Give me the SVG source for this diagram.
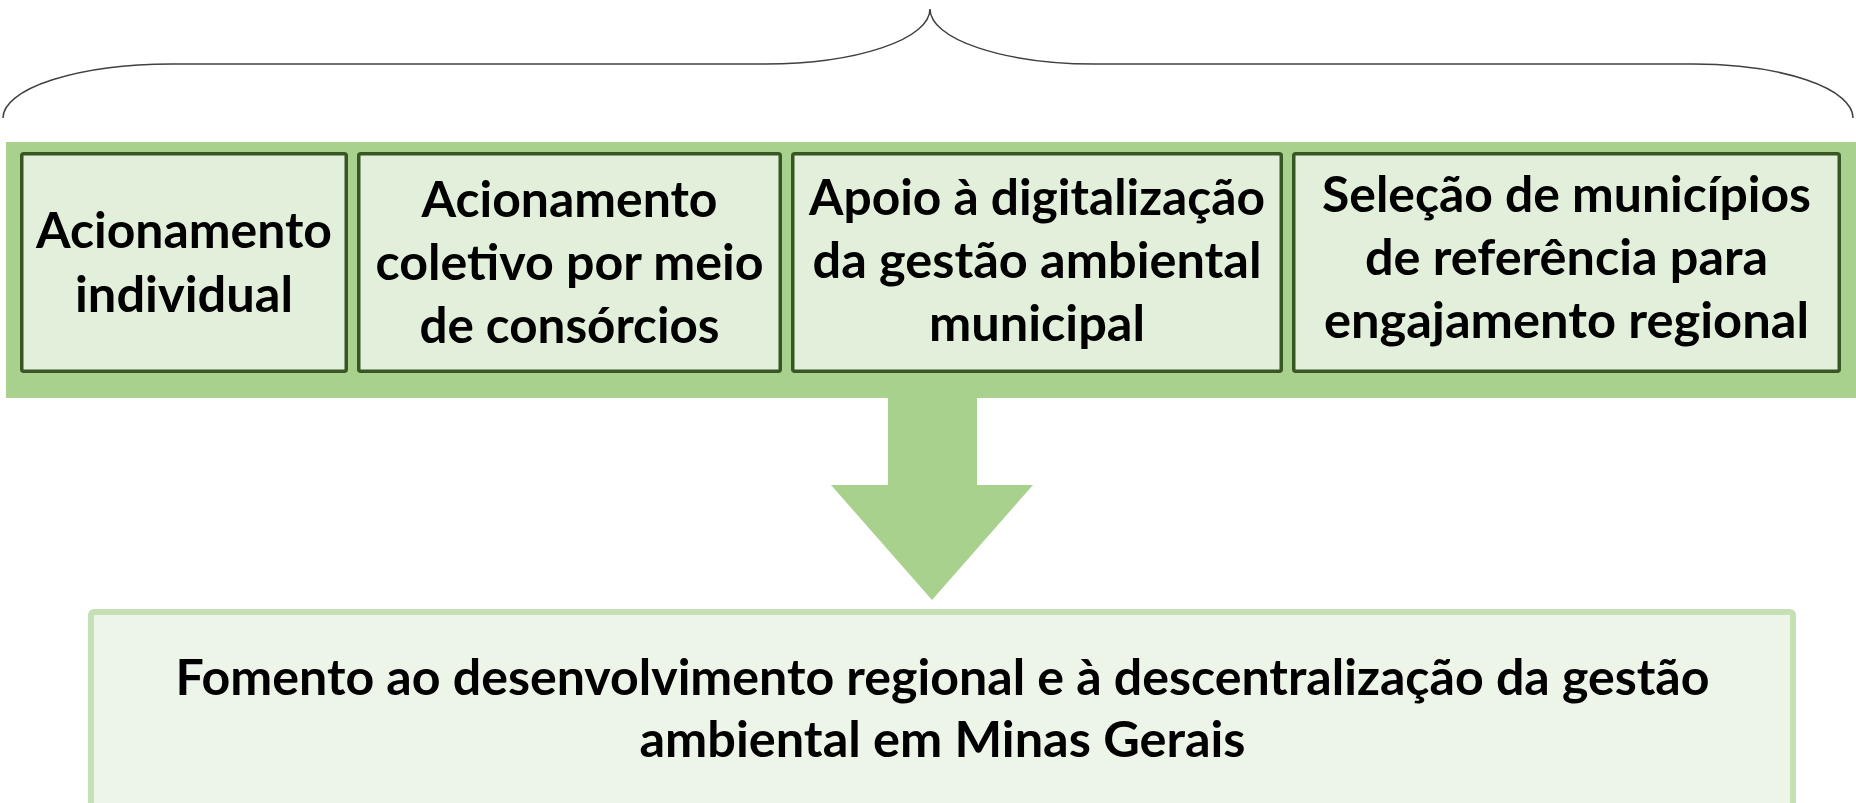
<svg xmlns="http://www.w3.org/2000/svg" width="1856" height="803" viewBox="0 0 1856 803">
<style>
.band{fill:#A9D18E}
.box{fill:#E2EFDA;stroke:#375623;stroke-width:3.5}
.out{fill:#EDF4E8;stroke:#C5E0B4;stroke-width:6}
.t{font-family:Lato,"Open Sans","Liberation Sans",sans-serif;font-weight:700;font-size:50px;fill:#000;text-anchor:middle}
.brace{fill:none;stroke:#404040;stroke-width:1.5}
</style>
<rect width="1856" height="803" fill="#FFFFFF"/>
<g id="brace">
<path class="brace" d="M3,118 A169,54 0 0 1 172,64 L765,64 A165,55 0 0 0 930,9 A165,55 0 0 0 1095,64 L1693,64 A160,54 0 0 1 1853,118"/>
</g>
<g id="group-band">
<rect class="band" x="6" y="142" width="1856" height="256"/>
</g>
<g id="connectors">
<polygon class="band" points="888,397 977,397 977,485 1033,485 932,600 831,485 888,485"/>
</g>
<g id="node1">
<rect class="box" x="21.75" y="153.75" width="324.5" height="217.5" rx="2"/>
<text class="t" x="184" y="248" textLength="296" lengthAdjust="spacingAndGlyphs">Acionamento</text>
<text class="t" x="184" y="312" textLength="218" lengthAdjust="spacingAndGlyphs">individual</text>
</g>
<g id="node2">
<rect class="box" x="358.75" y="153.75" width="421.5" height="217.5" rx="2"/>
<text class="t" x="569.5" y="217" textLength="296" lengthAdjust="spacingAndGlyphs">Acionamento</text>
<text class="t" x="569.5" y="280" textLength="388" lengthAdjust="spacingAndGlyphs">coletivo por meio</text>
<text class="t" x="569.5" y="343" textLength="300" lengthAdjust="spacingAndGlyphs">de consórcios</text>
</g>
<g id="node3">
<rect class="box" x="792.75" y="153.75" width="488.5" height="217.5" rx="2"/>
<text class="t" x="1037" y="215" textLength="456" lengthAdjust="spacingAndGlyphs">Apoio à digitalização</text>
<text class="t" x="1037" y="278" textLength="449" lengthAdjust="spacingAndGlyphs">da gestão ambiental</text>
<text class="t" x="1037" y="341" textLength="216" lengthAdjust="spacingAndGlyphs">municipal</text>
</g>
<g id="node4">
<rect class="box" x="1293.75" y="153.75" width="545.5" height="217.5" rx="2"/>
<text class="t" x="1566.5" y="212" textLength="489" lengthAdjust="spacingAndGlyphs">Seleção de municípios</text>
<text class="t" x="1566.5" y="275" textLength="403" lengthAdjust="spacingAndGlyphs">de referência para</text>
<text class="t" x="1566.5" y="338" textLength="485" lengthAdjust="spacingAndGlyphs">engajamento regional</text>
</g>
<g id="node-result">
<rect class="out" x="91" y="612" width="1702" height="230" rx="3"/>
<text class="t" x="942.5" y="695" textLength="1534" lengthAdjust="spacingAndGlyphs">Fomento ao desenvolvimento regional e à descentralização da gestão</text>
<text class="t" x="942.5" y="757" textLength="606" lengthAdjust="spacingAndGlyphs">ambiental em Minas Gerais</text>
</g>
</svg>
